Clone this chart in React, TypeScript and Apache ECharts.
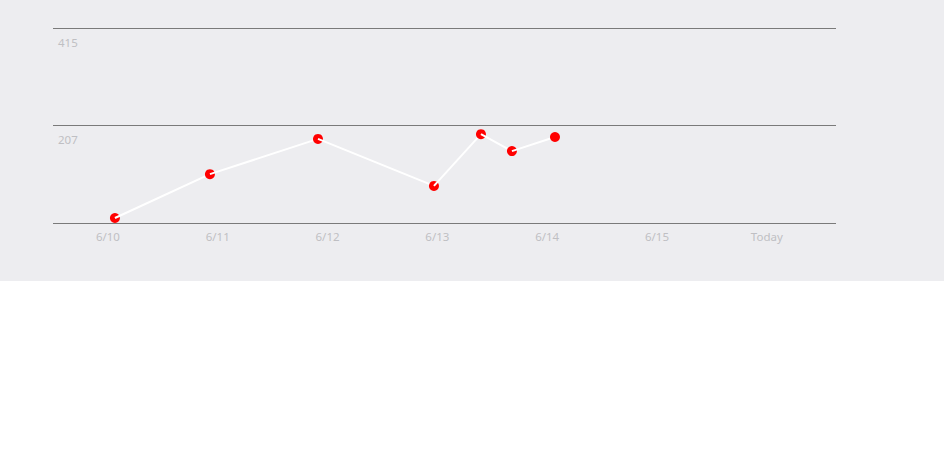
import { useEffect, useRef } from 'react';
import * as echarts from 'echarts';

// days since 6/10 (label positions are whole days)
const dayLabels = ['6/10', '6/11', '6/12', '6/13', '6/14', '6/15', 'Today'];
const pointDays = [0.064, 0.929, 1.913, 2.969, 3.397, 3.679, 4.071];
const pointValues = [10.6, 104, 179, 79, 189, 153, 183];
const yMax = 415;

export default function App() {
  const chartRef = useRef<HTMLDivElement>(null);

  useEffect(() => {
    if (!chartRef.current) return;
    document.body.style.margin = '0';

    const chart = echarts.init(chartRef.current, null, { renderer: 'svg' });

    const pts = pointDays.map((d, i) => [d, pointValues[i]]);

    // each point, then the segment leaving it, so the line sits over its own dot
    const series: any[] = [];
    pts.forEach((p, i) => {
      series.push({
        type: 'scatter',
        data: [p],
        symbolSize: 10,
        itemStyle: { color: '#ff0000', opacity: 1 },
        z: 2 + i * 2,
        silent: true,
      });
      if (i < pts.length - 1) {
        series.push({
          type: 'line',
          data: [p, pts[i + 1]],
          showSymbol: false,
          lineStyle: { color: '#ffffff', width: 2 },
          z: 3 + i * 2,
          silent: true,
        });
      }
    });

    chart.setOption({
      animation: false,
      backgroundColor: '#ededf0',
      textStyle: { fontFamily: '"Noto Sans", sans-serif' },
      grid: { left: 53, right: 108, top: 28, bottom: 58 },
      xAxis: {
        type: 'value',
        min: -0.5,
        max: 6.63,
        axisLine: { show: false },
        axisTick: { show: false },
        splitLine: { show: false },
        axisLabel: {
          customValues: dayLabels.map((_, i) => i),
          formatter: (v: number) => dayLabels[Math.round(v)] ?? '',
          color: '#bfbfc3',
          fontSize: 11.5,
          margin: 7,
          showMinLabel: true,
          showMaxLabel: true,
        },
      },
      yAxis: {
        type: 'value',
        min: 0,
        max: yMax,
        interval: yMax / 2,
        axisLine: { show: false },
        axisTick: { show: false },
        splitLine: { show: true, lineStyle: { color: '#7a7a7a', width: 1 } },
        axisLabel: {
          inside: true,
          margin: 5,
          align: 'left',
          verticalAlign: 'top',
          padding: [8, 0, 0, 0],
          color: '#bfbfc3',
          fontSize: 11.5,
          formatter: (v: number) => (v === 0 ? '' : String(Math.floor(v))),
        },
      },
      series,
    });

    return () => chart.dispose();
  }, []);

  return (
    <div
      ref={chartRef}
      style={{ position: 'absolute', left: 0, top: 0, width: '944px', height: '281px' }}
    />
  );
}
